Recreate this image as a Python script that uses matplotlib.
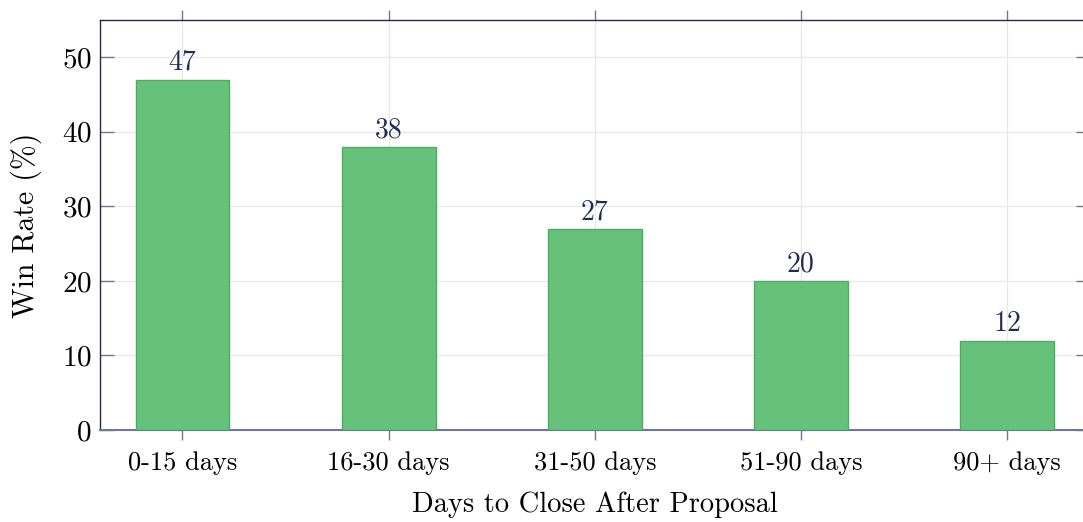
import matplotlib
matplotlib.use("Agg")
import matplotlib.pyplot as plt

categories = ["0-15 days", "16-30 days", "31-50 days", "51-90 days", "90+ days"]
win_rate = [47, 38, 27, 20, 12]

plt.rcParams["font.family"] = "cmr10"
plt.rcParams["mathtext.fontset"] = "cm"
plt.rcParams["axes.unicode_minus"] = False
plt.rcParams["axes.formatter.use_mathtext"] = True

navy = "#1f2d55"
slate = "#6f7890"
fig = plt.figure(figsize=(10.83, 5.22), dpi=100)
ax = fig.add_axes([100 / 1083, 92 / 522, 989.5 / 1083, 410 / 522])

x = list(range(len(categories)))
ax.bar(x, win_rate, width=0.455, color="#66c17b", edgecolor="#4caf60",
       linewidth=1.0, zorder=3)
for xi, v in zip(x, win_rate):
    ax.text(xi, v + 0.5, str(v), ha="center", va="bottom", fontsize=20,
            color=navy, zorder=4)

ax.set_xlim(-0.4, 4.4)
ax.set_ylim(0, 55)
ax.set_xticks(x)
ax.set_xticklabels(categories)
ax.set_yticks([0, 10, 20, 30, 40, 50])

ax.grid(True, color="#e8e8e8", linewidth=0.9, zorder=0)
ax.set_axisbelow(True)

for side in ("top", "left", "right"):
    ax.spines[side].set_color(navy)
    ax.spines[side].set_linewidth(1.0)
ax.spines["bottom"].set_color(slate)
ax.spines["bottom"].set_linewidth(1.5)

ax.tick_params(axis="x", which="both", direction="out", length=7, width=1.0,
               color=slate, top=True, labelsize=19, pad=8)
ax.tick_params(axis="y", which="both", direction="in", length=10, width=1.0,
               color=slate, right=True, labelsize=21, pad=6)
for t in ax.xaxis.get_major_ticks():
    t.tick2line.set_color(navy)

ax.set_xlabel("Days to Close After Proposal", fontsize=20.5, labelpad=12.5)
ax.set_ylabel("Win Rate (%)", fontsize=21.5, labelpad=14)

fig.savefig("out.png", dpi=100)
